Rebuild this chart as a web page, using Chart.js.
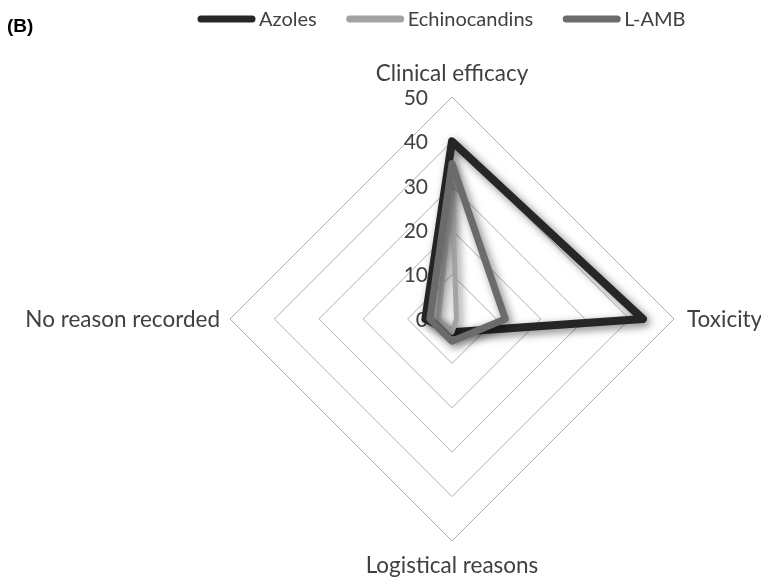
<!DOCTYPE html>
<html>
<head>
<meta charset="utf-8">
<script src="https://cdn.jsdelivr.net/npm/chart.js@4/dist/chart.umd.min.js"></script>
<style>
  html, body { margin: 0; padding: 0; background: #fff; }
  #wrap { width: 761px; height: 581px; position: relative; }
</style>
</head>
<body>
<div id="wrap"><canvas id="radarChart"></canvas></div>
<script>
const axisLabels = ['Clinical efficacy', 'Toxicity', 'Logistical reasons', 'No reason recorded'];
const seriesNames = ['Azoles', 'Echinocandins', 'L-AMB'];
const azoles = [40, 43, 3, 6];
const echinocandins = [30, 1, 3, 3];
const lamb = [35, 12, 5, 5];
const tickValues = [0, 10, 20, 30, 40, 50];

const textColor = '#404040';
const labelFont = '22.5px Lato';

// drop shadow under the series lines, like the office chart
const shadowPlugin = {
  id: 'lineShadow',
  beforeDatasetDraw(chart) {
    const ctx = chart.ctx;
    ctx.save();
    ctx.shadowColor = 'rgba(0,0,0,0.5)';
    ctx.shadowBlur = 8;
    ctx.shadowOffsetX = 3;
    ctx.shadowOffsetY = 3;
  },
  afterDatasetDraw(chart) {
    chart.ctx.restore();
  }
};

// tick numbers sit left of the top spoke, under the series
const tickPlugin = {
  id: 'sideTicks',
  beforeDatasetsDraw(chart) {
    const scale = chart.scales.r;
    const ctx = chart.ctx;
    ctx.save();
    ctx.font = '21px Lato';
    ctx.fillStyle = textColor;
    ctx.textAlign = 'right';
    ctx.textBaseline = 'middle';
    tickValues.forEach((v) => {
      const p = scale.getPointPositionForValue(0, v);
      ctx.fillText(String(v), scale.xCenter - 24, p.y + 1);
    });
    ctx.restore();
  }
};

// category labels, legend and panel letter
const labelPlugin = {
  id: 'outerLabels',
  afterDraw(chart) {
    const scale = chart.scales.r;
    const ctx = chart.ctx;
    const r = scale.drawingArea;
    ctx.save();
    ctx.font = labelFont;
    ctx.fillStyle = textColor;
    ctx.textBaseline = 'alphabetic';

    let p = scale.getPointPosition(0, r);
    ctx.textAlign = 'center';
    ctx.fillText(axisLabels[0], p.x, p.y - 16);

    p = scale.getPointPosition(1, r);
    ctx.textAlign = 'left';
    ctx.fillText(axisLabels[1], p.x + 13, p.y + 8);

    p = scale.getPointPosition(2, r);
    ctx.textAlign = 'center';
    ctx.fillText(axisLabels[2], p.x, p.y + 32);

    p = scale.getPointPosition(3, r);
    ctx.textAlign = 'right';
    ctx.fillText(axisLabels[3], p.x - 10, p.y + 8);

    // legend
    ctx.font = '20px Lato';
    ctx.textAlign = 'left';
    ctx.textBaseline = 'middle';
    let x = 197;
    const y = 19;
    chart.data.datasets.forEach((ds) => {
      ctx.strokeStyle = ds.borderColor;
      ctx.lineWidth = 7;
      ctx.lineCap = 'round';
      ctx.beginPath();
      ctx.moveTo(x + 4, y);
      ctx.lineTo(x + 55, y);
      ctx.stroke();
      ctx.fillStyle = textColor;
      ctx.fillText(ds.label, x + 62, y + 1);
      x += 62 + ctx.measureText(ds.label).width + 29;
    });

    ctx.font = 'bold 19px "Liberation Sans"';
    ctx.fillStyle = '#000';
    ctx.fillText('(B)', 7, 27);
    ctx.restore();
  }
};

new Chart(document.getElementById('radarChart'), {
  type: 'radar',
  data: {
    labels: axisLabels,
    datasets: [
      { label: seriesNames[0], data: azoles, borderColor: '#262626', borderWidth: 8, order: 3 },
      { label: seriesNames[1], data: echinocandins, borderColor: '#a3a3a3', borderWidth: 5, order: 2 },
      { label: seriesNames[2], data: lamb, borderColor: '#6b6b6b', borderWidth: 7, order: 1 }
    ].map((d) => Object.assign(d, { fill: false, pointRadius: 0, pointHoverRadius: 0, borderJoinStyle: 'round', tension: 0 }))
  },
  options: {
    responsive: true,
    maintainAspectRatio: false,
    animation: false,
    layout: { padding: { left: 230, right: 86, top: 97, bottom: 40 } },
    plugins: { legend: { display: false }, tooltip: { enabled: false } },
    scales: {
      r: {
        min: 0,
        max: 50,
        ticks: { display: false, stepSize: 10 },
        pointLabels: { display: false },
        angleLines: { display: false },
        grid: { color: '#b0b0b0', lineWidth: 1 }
      }
    }
  },
  plugins: [shadowPlugin, tickPlugin, labelPlugin]
});
</script>
</body>
</html>
